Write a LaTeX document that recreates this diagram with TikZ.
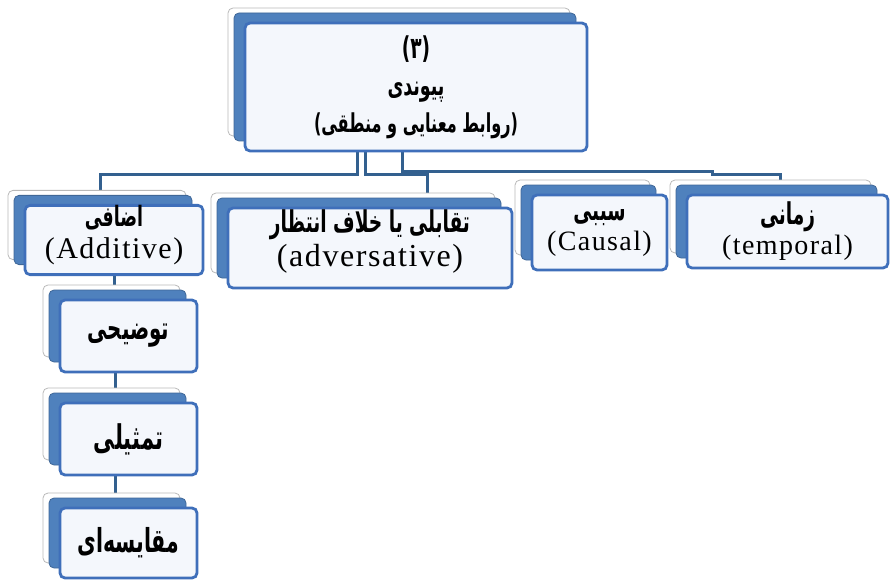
\documentclass[tikz,border=0pt]{standalone}
\usepackage{fontspec}
\setmainfont{Liberation Serif}[LetterSpace=5]
\newfontfamily\fa[Script=Arabic,FakeStretch=0.62]{DejaVu Sans Bold}
\TeXXeTstate=1
\usetikzlibrary{positioning,shadows,backgrounds}

\definecolor{cardblue}{HTML}{4F81BD}
\definecolor{edgeblue}{HTML}{3F6FBA}
\definecolor{linkblue}{HTML}{33608F}
\definecolor{cardfill}{HTML}{F4F7FC}

\newcommand{\fatxt}[2][24]{{\fontsize{#1}{#1}\selectfont\fa\beginR #2\endR}}
\newcommand{\lift}[1]{\rule[-#1pt]{0pt}{#1pt}}

\begin{document}
\begin{tikzpicture}[x=1pt, y=-1pt,
  card/.style={draw=edgeblue, line width=2.8pt, fill=cardfill, rounded corners=5pt,
    inner sep=0pt, align=center, font=\fontsize{28}{30}\selectfont,
    general shadow={shadow xshift=-17pt, shadow yshift=15pt, fill=white, draw=gray!55, line width=0.8pt},
    general shadow={shadow xshift=-11pt, shadow yshift=10pt, fill=cardblue, draw=cardblue!80!black, line width=0.8pt}},
  link/.style={draw=linkblue, line width=3pt}]
\useasboundingbox (0,0) rectangle (890,580);

% Root
\node[card, minimum width=342pt, minimum height=128pt, font=\fontsize{26}{37}\selectfont] (root) at (416,87)
  {\fatxt[30]{(۳)}\\ \fatxt[28]{پیوندی}\\ \fatxt[26]{(روابط معنایی و منطقی)}};

% Kinds
\node[card, minimum width=178pt, minimum height=64pt, font=\fontsize{30}{32}\selectfont] (additive) at (114,240)
  {\fatxt[28]{اضافی}\\ (Additive)\lift{16}};
\node[card, minimum width=284pt, minimum height=80pt, font=\fontsize{32}{34}\selectfont] (advers) at (370,248)
  {\fatxt[30]{تقابلی یا خلاف انتظار}\\ (adversative)\lift{20}};
\node[card, minimum width=135pt, minimum height=75pt] (causal) at (599.5,232.5) {\fatxt[30]{سببی}\\ (Causal)};
\node[card, minimum width=201pt, minimum height=73pt] (temporal) at (787.5,231.5) {\fatxt[30]{زمانی}\\ (temporal)};

% Additive sub kinds
\node[card, minimum width=137pt, minimum height=72pt] (explan) at (128.5,336) {\fatxt[32]{توضیحی}};
\node[card, minimum width=137pt, minimum height=72pt] (analog) at (128.5,439) {\fatxt[34]{تمثیلی}};
\node[card, minimum width=137pt, minimum height=70pt] (compar) at (128.5,543) {\fatxt[33]{مقایسه‌ای}};

% Links
\begin{pgfonlayer}{background}
\draw[link] ([xshift=-59pt]root.south) -- ++(0,22) -| ([xshift=-14pt]additive.north);
\draw[link] ([xshift=-51pt]root.south) -- ++(0,22) -| ([xshift=57pt]advers.north);
\draw[link] ([xshift=-14pt]root.south) -- ++(0,19) -| ++(310,3) -| ([xshift=-7pt]temporal.north);
\draw[link] (additive.south) -- (additive.south |- explan.north);
\draw[link] ([xshift=-13.5pt]explan.south) -- ([xshift=-13.5pt]analog.north);
\draw[link] ([xshift=-13.5pt]analog.south) -- ([xshift=-13.5pt]compar.north);
\end{pgfonlayer}

\end{tikzpicture}
\end{document}
